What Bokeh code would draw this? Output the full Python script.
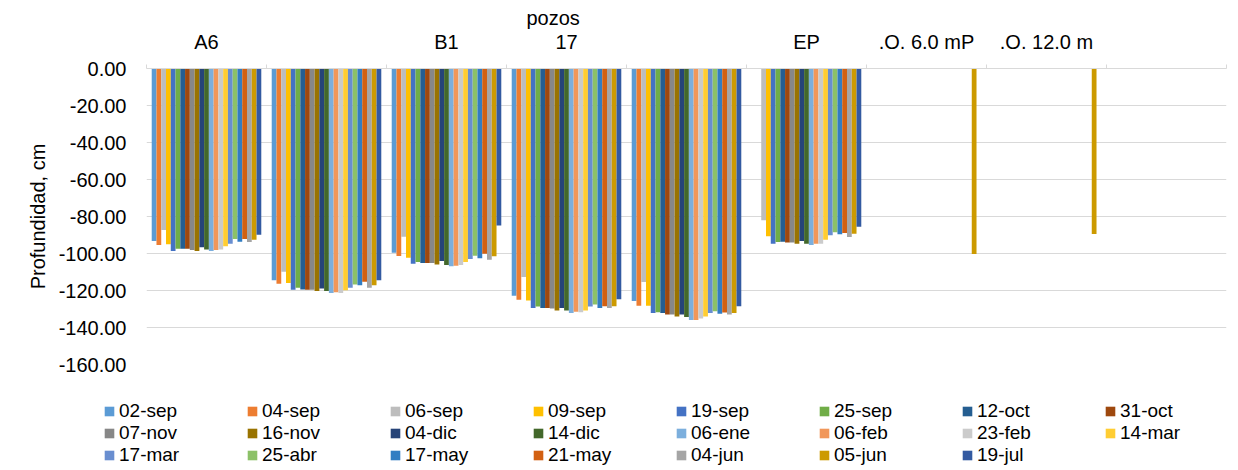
import math
from bokeh.plotting import figure
from bokeh.layouts import column
from bokeh.models import (ColumnDataSource, Range1d, FixedTicker, NumeralTickFormatter,
                          Legend, LegendItem)
from bokeh.transform import dodge
from bokeh.embed import file_html
from bokeh.resources import INLINE

nan = float("nan")

pozos = ["A6", "", "B1", "17", "", "EP", ".O. 6.0 mP", ".O. 12.0 m", ""]
fechas = ["02-sep", "04-sep", "06-sep", "09-sep", "19-sep", "25-sep", "12-oct", "31-oct",
          "07-nov", "16-nov", "04-dic", "14-dic", "06-ene", "06-feb", "23-feb", "14-mar",
          "17-mar", "25-abr", "17-may", "21-may", "04-jun", "05-jun", "19-jul"]

A6 = [-93.2, -95.4, -87.3, -95.0, -98.6, -97.4, -97.4, -97.4, -98.1, -98.6, -96.6, -97.9,
      -98.6, -98.1, -97.9, -96.1, -94.7, -92.1, -93.6, -92.1, -93.8, -92.5, -89.8]
P2 = [-114.5, -116.4, -109.9, -116.0, -119.6, -118.5, -119.4, -119.6, -119.6, -120.3, -118.9, -120.3,
      -121.4, -120.9, -121.4, -119.9, -118.5, -116.7, -117.1, -115.3, -118.5, -117.1, -114.5]
B1 = [-99.6, -101.4, -90.9, -102.3, -105.5, -104.6, -105.1, -105.1, -105.1, -105.9, -104.1, -106.2,
      -106.9, -106.6, -106.2, -104.6, -103.0, -101.2, -102.6, -100.1, -103.4, -101.5, -84.9]
P17 = [-122.9, -125.0, -112.7, -125.4, -129.4, -128.6, -129.4, -129.4, -129.7, -130.8, -129.4, -130.8,
       -132.2, -131.5, -131.7, -130.8, -128.6, -127.5, -129.4, -128.5, -129.4, -128.5, -124.7]
P5 = [-125.7, -128.3, -115.4, -128.3, -132.2, -131.7, -132.2, -133.0, -133.0, -134.0, -133.0, -134.3,
      -135.9, -135.9, -135.1, -134.0, -132.2, -131.2, -132.6, -131.9, -133.0, -132.2, -128.5]
EP = [nan, nan, -82.0, -90.7, -94.7, -93.8, -93.6, -94.1, -94.1, -94.7, -93.2, -94.7,
      -95.4, -94.7, -94.7, -92.5, -90.1, -88.5, -89.6, -88.9, -91.1, -89.3, -85.6]
PO6 = [nan] * 21 + [-100.3, nan]
PO12 = [nan] * 21 + [-89.4, nan]
P9 = [nan] * 23

valores = [A6, P2, B1, P17, P5, EP, PO6, PO12, P9]

colores = ["#5B9BD5", "#ED7D31", "#BDBDBD", "#FFC000", "#4472C4", "#70AD47", "#255E91", "#9E480E",
           "#878787", "#997300", "#264478", "#43682B", "#7CAFDD", "#F1975A", "#CBCBCB", "#FFCD33",
           "#698ED0", "#8CC168", "#327DC2", "#D26012", "#A5A5A5", "#CC9A00", "#335AA1"]

y_ticks = [0, -20, -40, -60, -80, -100, -120, -140, -160]

FONT = "Liberation Sans"
FS = "20px"
FS_LEG = "19px"

centros = [i + 0.5 for i in range(len(pozos))]
data = {"x": centros}
for j, f in enumerate(fechas):
    data[f"s{j}"] = [v[j] for v in valores]
src = ColumnDataSource(data)

p = figure(width=1238, height=380, x_range=Range1d(0, len(pozos)), y_range=Range1d(-160, 0),
           x_axis_location="above", output_backend="svg", toolbar_location=None,
           min_border_left=146, min_border_right=12, min_border_top=68, min_border_bottom=16)
p.outline_line_color = None
p.background_fill_color = "white"
p.border_fill_color = "white"
p.frame_align = False

n = len(fechas)
bw = 0.0397
for j, f in enumerate(fechas):
    off = (j - (n - 1) / 2) * bw
    p.vbar(x=dodge("x", off, range=p.x_range), top=f"s{j}", bottom=0, width=bw,
           source=src, fill_color=colores[j], line_color=None)

# axes
p.xgrid.visible = False
yt = FixedTicker(ticks=y_ticks)
p.yaxis.ticker = yt
p.ygrid.ticker = yt
p.ygrid.grid_line_color = "#D9D9D9"
p.ygrid.grid_line_width = 1
p.yaxis.formatter = NumeralTickFormatter(format="0.00")
p.yaxis.axis_line_color = None
p.yaxis.major_tick_line_color = None
p.yaxis.minor_tick_line_color = None
p.yaxis.major_tick_out = 0
p.yaxis.major_label_standoff = 20
p.yaxis.major_label_text_font = FONT
p.yaxis.major_label_text_font_size = FS
p.yaxis.major_label_text_color = "black"
p.yaxis.axis_label = "Profundidad, cm"
p.yaxis.axis_label_text_font = FONT
p.yaxis.axis_label_text_font_size = FS
p.yaxis.axis_label_text_font_style = "normal"
p.yaxis.axis_label_text_color = "black"
p.yaxis.axis_label_standoff = 7

lab_pos = [c for c, name in zip(centros, pozos) if name]
p.xaxis.ticker = FixedTicker(ticks=lab_pos, minor_ticks=list(range(len(pozos) + 1)))
p.xaxis.major_label_overrides = {c: name for c, name in zip(centros, pozos) if name}
p.xaxis.axis_line_color = "#D9D9D9"
p.xaxis.major_tick_line_color = None
p.xaxis.major_tick_out = 0
p.xaxis.major_tick_in = 0
p.xaxis.minor_tick_line_color = "#D9D9D9"
p.xaxis.minor_tick_out = 4
p.xaxis.minor_tick_in = 0
p.xaxis.major_label_standoff = 12
p.xaxis.major_label_text_font = FONT
p.xaxis.major_label_text_font_size = FS
p.xaxis.major_label_text_color = "black"

p.title.text = "pozos"
p.title.align = "left"
p.title.offset = 380
p.title.standoff = -3
p.title.text_font = FONT
p.title.text_font_size = FS
p.title.text_font_style = "normal"
p.title.text_color = "black"

# legend strip below the plot (same series, drawn out of view so only the legend shows)
pl = figure(width=1238, height=90, x_range=Range1d(0, len(pozos)), y_range=Range1d(1, 2),
            x_axis_type=None, y_axis_type=None, output_backend="svg", toolbar_location=None,
            min_border=0)
pl.frame_align = False
pl.outline_line_color = None
pl.xgrid.visible = False
pl.ygrid.visible = False
pl.background_fill_color = "white"
pl.border_fill_color = "white"
leg_renderers = []
for j, f in enumerate(fechas):
    r = pl.vbar(x="x", top=f"s{j}", bottom=0, width=bw, source=src,
                fill_color=colores[j], line_color=None)
    leg_renderers.append(r)

items = [LegendItem(label=f, renderers=[r]) for f, r in zip(fechas, leg_renderers)]
legend = Legend(items=items, orientation="horizontal", ncols=8, location=(103, 4),
                padding=0, margin=0, spacing=0, glyph_width=12, glyph_height=12,
                label_height=21, label_width=127, label_standoff=4,
                border_line_color=None, background_fill_alpha=0,
                label_text_font=FONT, label_text_font_size=FS_LEG, label_text_color="black")
pl.add_layout(legend)

layout = column(p, pl, spacing=0)
open("out.html", "w").write(file_html(layout, INLINE))
